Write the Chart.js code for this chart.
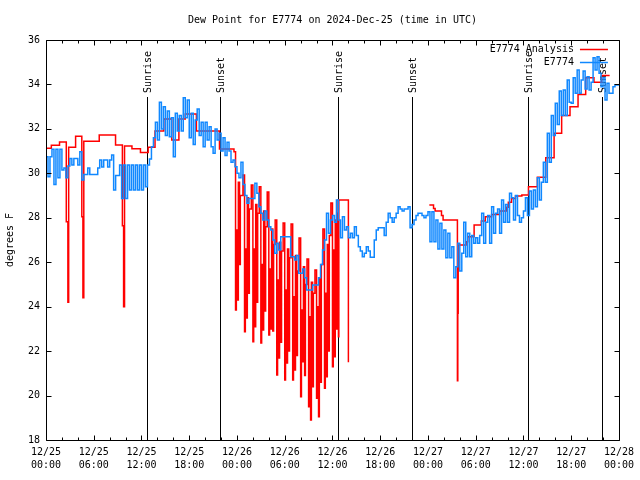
<!DOCTYPE html>
<html lang="en">
<head>
<meta charset="UTF-8">
<title>Dew Point for E7774</title>
<script src="https://cdn.jsdelivr.net/npm/chart.js@4.4.0/dist/chart.umd.min.js"></script>
<style>
  body { margin: 0; background: #fff; }
  #wrap { width: 640px; height: 480px; }
</style>
</head>
<body>
<div id="wrap"><canvas id="dewChart" width="640" height="480"></canvas></div>
<script>
// all times are hours since 12/25 00:00 UTC
const titleText = 'Dew Point for E7774 on 2024-Dec-25 (time in UTC)';

const tickHours = [0, 6, 12, 18, 24, 30, 36, 42, 48, 54, 60, 66, 72];
const tickDates = ['12/25', '12/25', '12/25', '12/25', '12/26', '12/26', '12/26', '12/26', '12/27', '12/27', '12/27', '12/27', '12/28'];
const tickTimes = ['00:00', '06:00', '12:00', '18:00', '00:00', '06:00', '12:00', '18:00', '00:00', '06:00', '12:00', '18:00', '00:00'];

const sunTimes = [12.63, 21.87, 36.67, 45.95, 60.63, 69.9];
const sunLabels = ['Sunrise', 'Sunset', 'Sunrise', 'Sunset', 'Sunrise', 'Sunset'];

// E7774 analysis (drawn as steps), null = no data
const redT = [
  0, 0.67, 1.7, 2.55, 2.75, 2.85, 3.72, 4.5, 4.64, 4.75, 6.69, 8.74, 9.6, 9.75, 9.87,
  10.8, 11.87, 12.84, 13.7, 14.8, 15.8, 16.7, 17.5, 18.9, 21.8,
  23.62, 23.82, 23.92, 24.07, 24.17, 24.32, 24.42,
  24.75, 24.95, 25.05, 25.2, 25.3, 25.45, 25.55,
  25.8, 26.0, 26.1, 26.25, 26.35, 26.5, 26.6,
  26.8, 27.0, 27.1, 27.25, 27.35, 27.5, 27.6,
  27.8, 28.0, 28.1, 28.25, 28.35, 28.5, 28.6,
  28.8, 29.0, 29.1, 29.25, 29.35, 29.5, 29.6,
  29.8, 30.0, 30.1, 30.25, 30.35, 30.5, 30.6,
  30.8, 31.0, 31.1, 31.25, 31.35, 31.5, 31.6,
  31.8, 32.0, 32.1, 32.25, 32.35, 32.5, 32.6,
  32.8, 33.0, 33.1, 33.25, 33.35, 33.5, 33.6,
  33.8, 34.0, 34.1, 34.25, 34.35, 34.5, 34.6,
  34.8, 35.0, 35.1, 35.25, 35.35, 35.5, 35.6,
  35.8, 36.0, 36.1, 36.25, 36.35, 36.5, 36.6,
  36.7, 36.75, 36.8, 38.0, 38.05,
  48.17, 48.7, 48.9, 49.7, 49.9, 51.7, 51.75, 51.8, 52.8, 53.0, 53.8, 54.7, 55.2,
  56.0, 57.0, 57.9, 58.1, 58.5, 59.0, 59.8, 60.63, 61.75, 62.8, 63.85, 64.8,
  65.85, 66.86, 67.82, 68.86, 69.83, 70.83
];
const redV = [
  31.13, 31.26, 31.41, 27.82, 24.2, 31.17, 31.67, 28.05, 24.4, 31.44, 31.72, 31.28, 27.64, 24.0, 31.23,
  31.11, 30.94, 31.17, 31.9, 32.45, 31.5, 32.45, 32.67, 31.9, 31.1,
  30.97, 23.85, 27.45, 24.3, 29.6, 25.9, 29.0,
  29.92, 22.87, 26.6, 23.49, 28.9, 24.6, 28.4,
  29.47, 22.42, 26.6, 23.1, 28.6, 24.2, 28.2,
  29.4, 22.36, 25.9, 22.95, 28.3, 23.8, 27.6,
  29.16, 22.72, 25.7, 23.0, 27.5, 22.9, 26.8,
  27.9, 20.92, 25.2, 21.69, 26.9, 22.4, 26.5,
  27.76, 20.7, 24.75, 21.46, 26.6, 22.0, 26.2,
  27.72, 20.7, 24.45, 21.15, 26.3, 21.8, 25.6,
  27.09, 19.95, 23.85, 21.52, 25.8, 20.9, 25.0,
  26.14, 19.5, 23.55, 18.9, 25.1, 20.4, 24.6,
  25.65, 19.88, 24.0, 19.05, 25.3, 20.6, 25.9,
  27.5, 20.33, 24.6, 20.85, 26.8, 22.0, 27.2,
  28.66, 21.3, 26.55, 21.75, 27.9, 23.0, 28.2,
  28.8, 22.65, 28.8, 21.5, null,
  28.57, 28.42, 28.3, 28.1, 27.9, 20.67, 23.7, 26.77, 26.92, 27.15, 27.67, 27.85, 28.05,
  28.15, 28.3, 28.47, 28.7, 28.87, 28.98, 29.02, 29.4, 29.82, 30.7, 31.8, 32.6,
  33.0, 33.55, 34.3, 34.1, 34.4, 34.4
];

// E7774 observations, one value every 15 minutes from 12/25 00:00
const blueStartHour = 0;
const blueEveryHours = 0.25;
const blueV = [
  // 12/25 00-06
  30.75, 29.85, 30.75, 31.08,
  29.5, 31.08, 29.8, 31.08,
  30.15, 30.24, 29.8, 30.33,
  30.67, 30.37, 30.67, 30.67,
  30.37, 30.97, 29.7, 29.95,
  29.95, 30.24, 29.95, 29.95,
  // 12/25 06-12
  29.95, 29.95, 30.24, 30.6,
  30.28, 30.6, 30.6, 30.28,
  30.6, 30.83, 29.25, 29.9,
  29.9, 30.37, 28.87, 30.37,
  28.87, 30.37, 29.25, 30.37,
  29.25, 30.37, 29.25, 30.37,
  // 12/25 12-18
  29.25, 30.37, 29.4, 30.37,
  30.64, 31.2, 31.6, 32.3,
  31.5, 33.2, 32.0, 33.0,
  31.7, 32.8, 31.65, 32.5,
  30.75, 32.7, 31.9, 32.6,
  31.9, 33.4, 32.5, 33.3,
  // 12/25 18-24
  31.6, 32.7, 31.3, 32.4,
  32.9, 31.7, 32.3, 31.2,
  32.3, 31.5, 32.1, 31.2,
  30.9, 32.0, 31.5, 31.8,
  31.0, 31.6, 30.8, 31.4,
  31.0, 30.5, 30.6, 30.3,
  // 12/26 00-06
  30.0, 29.8, 30.5, 29.5,
  29.0, 28.65, 28.87, 28.87,
  28.87, 29.55, 29.1, 28.5,
  28.2, 27.9, 28.3, 27.9,
  27.6, 27.45, 27.0, 26.4,
  26.85, 26.55, 27.15, 27.15,
  // 12/26 06-12
  27.15, 27.15, 27.15, 26.25,
  26.25, 26.1, 26.3, 25.5,
  25.5, 25.7, 25.3, 24.75,
  24.75, 24.75, 24.97, 24.97,
  24.97, 25.3, 25.9, 26.55,
  27.0, 28.2, 27.3, 27.9,
  // 12/26 12-18
  28.1, 27.8, 28.8, 27.9,
  27.1, 28.05, 27.45, 27.6,
  27.1, 27.3, 27.1, 27.6,
  27.2, 26.7, 26.5, 26.25,
  26.4, 26.7, 26.5, 26.22,
  26.22, 27.0, 27.45, 27.55,
  // 12/26 18-24
  27.55, 27.55, 27.2, 27.8,
  28.2, 28.0, 27.8, 28.0,
  28.2, 28.5, 28.4, 28.3,
  28.4, 28.4, 28.5, 27.55,
  27.7, 27.9, 28.1, 28.2,
  28.2, 28.1, 28.0, 28.1,
  // 12/27 00-06
  28.27, 26.92, 28.27, 26.92,
  27.9, 26.6, 27.75, 26.6,
  27.45, 26.2, 27.3, 26.2,
  26.7, 25.3, 25.8, 26.85,
  25.6, 26.4, 27.8, 26.25,
  27.3, 26.25, 27.2, 26.85,
  // 12/27 06-12
  27.1, 26.85, 27.2, 28.2,
  26.85, 27.8, 28.1, 26.85,
  28.5, 27.3, 28.2, 28.4,
  27.3, 28.8, 27.8, 28.6,
  27.8, 29.1, 28.9, 27.9,
  29.0, 28.1, 27.8, 28.0,
  // 12/27 12-18
  28.3, 28.9, 28.1, 29.2,
  28.4, 29.25, 28.5, 29.8,
  28.8, 29.6, 30.5, 29.6,
  31.8, 30.5, 32.6, 31.7,
  33.15, 32.2, 33.7, 32.6,
  33.75, 32.6, 34.2, 33.2,
  // 12/27 18-24
  33.15, 34.3, 33.6, 34.65,
  33.6, 34.2, 34.6, 33.8,
  34.35, 33.75, 34.1, 35.2,
  34.65, 35.25, 34.5, 33.9,
  34.3, 33.3, 34.05, 33.6,
  33.6, 33.9, 33.97, 33.97,
  33.97
];

const FONT = '"DejaVu Sans Mono", "Liberation Mono", monospace';
const RED = '#ff0000';
const BLUE = 'rgb(16,136,255)';

const redData = redT.map((t, i) => ({ x: t, y: redV[i] }));
const blueData = blueV.map((v, i) => ({ x: blueStartHour + i * blueEveryHours, y: v }));

// gnuplot-like frame: border, inward ticks, sun lines, legend
const gnuFrame = {
  id: 'gnuFrame',
  beforeDatasetsDraw(chart) {
    const { ctx, chartArea: a, scales: { x } } = chart;
    ctx.save();
    ctx.strokeStyle = '#000';
    ctx.fillStyle = '#000';
    ctx.lineWidth = 1;
    ctx.font = '10px ' + FONT;
    sunTimes.forEach((t, i) => {
      const px = Math.round(x.getPixelForValue(t)) + 0.5;
      ctx.beginPath();
      ctx.moveTo(px, a.top + 57);
      ctx.lineTo(px, a.bottom);
      ctx.stroke();
      ctx.save();
      ctx.translate(px + 1, a.top + 53);
      ctx.rotate(-Math.PI / 2);
      ctx.textAlign = 'left';
      ctx.textBaseline = 'middle';
      ctx.fillText(sunLabels[i], 0, 0);
      ctx.restore();
    });
    ctx.restore();
  },
  afterDatasetsDraw(chart) {
    const { ctx, chartArea: a, scales: { x, y } } = chart;
    const L = Math.round(a.left) + 0.5, R = Math.round(a.right) + 0.5;
    const T = Math.round(a.top) + 0.5, B = Math.round(a.bottom) + 0.5;
    ctx.save();
    ctx.strokeStyle = '#000';
    ctx.lineWidth = 1;
    ctx.beginPath();
    ctx.rect(L, T, R - L, B - T);
    // x ticks: major every 6 h, minor every 2 h
    for (let h = 0; h <= 72; h += 2) {
      const len = h % 6 === 0 ? 5 : 3;
      const px = Math.round(x.getPixelForValue(h)) + 0.5;
      ctx.moveTo(px, B); ctx.lineTo(px, B - len);
      ctx.moveTo(px, T); ctx.lineTo(px, T + len);
    }
    y.ticks.forEach(tk => {
      const py = Math.round(y.getPixelForValue(tk.value)) + 0.5;
      ctx.moveTo(L, py); ctx.lineTo(L + 5, py);
      ctx.moveTo(R, py); ctx.lineTo(R - 5, py);
    });
    ctx.stroke();

    // legend inside the top right corner
    ctx.font = '10px ' + FONT;
    ctx.textAlign = 'right';
    ctx.textBaseline = 'middle';
    ctx.fillStyle = '#000';
    [1, 0].forEach((di, row) => {
      const ds = chart.data.datasets[di];
      const ly = Math.round(a.top + 9 + row * 13) + 0.5;
      ctx.fillText(ds.label, a.right - 45, ly);
      ctx.strokeStyle = ds.borderColor;
      ctx.lineWidth = 1.5;
      ctx.beginPath();
      ctx.moveTo(a.right - 39, ly);
      ctx.lineTo(a.right - 11, ly);
      ctx.stroke();
    });
    ctx.restore();
  }
};

new Chart(document.getElementById('dewChart'), {
  type: 'line',
  data: {
    datasets: [
      {
        label: 'E7774',
        data: blueData,
        borderColor: BLUE,
        borderWidth: 1.5,
        pointRadius: 0,
        stepped: true,
        fill: false
      },
      {
        label: 'E7774 Analysis',
        data: redData,
        borderColor: RED,
        borderWidth: 1.5,
        pointRadius: 0,
        stepped: true,
        spanGaps: false,
        fill: false
      }
    ]
  },
  options: {
    responsive: false,
    animation: false,
    layout: { padding: { left: 0, right: 20, top: 0, bottom: 0 }, autoPadding: false },
    plugins: {
      legend: { display: false },
      tooltip: { enabled: false },
      title: {
        display: true,
        text: titleText,
        fullSize: false,
        color: '#000',
        font: { family: FONT, size: 10, weight: 'normal' },
        padding: { top: 14, bottom: 14 }
      }
    },
    scales: {
      x: {
        type: 'linear',
        min: 0,
        max: 72,
        grid: { display: false, drawTicks: false },
        border: { display: false },
        afterBuildTicks: s => { s.ticks = tickHours.map(v => ({ value: v })); },
        afterFit: s => { s.height = 40; },
        ticks: {
          autoSkip: false,
          maxRotation: 0,
          padding: 6,
          color: '#000',
          font: { family: FONT, size: 10, lineHeight: 1.3 },
          callback: (v, i) => [tickDates[i], tickTimes[i]]
        }
      },
      y: {
        min: 18,
        max: 36,
        grid: { display: false, drawTicks: false },
        border: { display: false },
        afterFit: s => { s.width = 46; },
        ticks: {
          stepSize: 2,
          padding: 6,
          color: '#000',
          font: { family: FONT, size: 10 }
        },
        title: {
          display: true,
          text: 'degrees F',
          color: '#000',
          font: { family: FONT, size: 10 },
          padding: { top: 4, bottom: 0 }
        }
      }
    }
  },
  plugins: [gnuFrame]
});
</script>
</body>
</html>
